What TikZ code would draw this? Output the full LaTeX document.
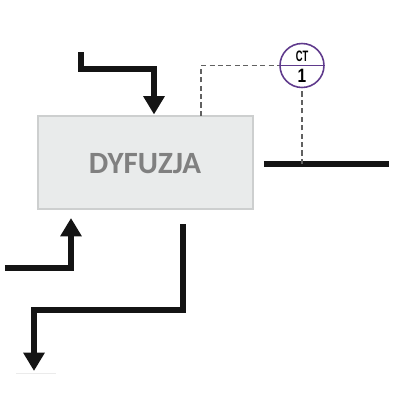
\documentclass[tikz,border=0pt]{standalone}
\usepackage{fontspec}
\setmainfont{Carlito}
\newfontfamily\narrowfont{Liberation Sans}
\usetikzlibrary{arrows.meta}

\definecolor{boxfill}{HTML}{E9EBEB}
\definecolor{boxline}{HTML}{CDCFCF}
\definecolor{sensorviolet}{HTML}{5F3A8C}

\tikzset{
  flowline/.style={line width=2.9pt, black!92, line join=miter},
  flowarrow/.style={flowline, -{Triangle[width=11.6pt,length=10.4pt]}},
  signalline/.style={line width=0.85pt, black!62, dash pattern=on 2.9pt off 1.9pt},
  processbox/.style={draw=boxline, line width=1pt, fill=boxfill, minimum width=4.3cm, minimum height=1.86cm, inner sep=0pt},
  sensorcircle/.style={circle, draw=sensorviolet, line width=0.9pt, minimum size=0.88cm, inner sep=0pt},
}

\begin{document}
\begin{tikzpicture}[x=0.02cm, y=-0.02cm]
\useasboundingbox (0,0) rectangle (400,400);
\node[processbox] (dyfuzja) at (145.5,162.5) {};
\node[text=black!50, font=\bfseries\fontsize{17.6}{20}\selectfont] (dyfuzjatext) at (145,163.5) {DYFUZJA};
\node[sensorcircle] (ct) at (302,65.5) {};
\node[font=\narrowfont\bfseries\fontsize{8.6}{9}\selectfont, xscale=0.62] (cttext) at (302,56.5) {CT};
\node[font=\narrowfont\bfseries\fontsize{11}{12}\selectfont, xscale=0.8] (ctnumber) at (302,76) {1};
\coordinate (feedstart) at (81,52);
\coordinate (feedend) at (154,114.5);
\coordinate (leftstart) at (5,268);
\coordinate (leftend) at (71,218);
\coordinate (outstart) at (183,224);
\coordinate (outend) at (34,371);
\coordinate (steamstart) at (264,164);
\coordinate (steamend) at (389,164);
\coordinate (steamtap) at (302,164);
\coordinate (boxtap) at (201,116);
\draw[flowarrow] (feedstart) |- (154,69) -- (feedend);
\draw[flowarrow] (leftstart) -| (leftend);
\draw[flowarrow] (outstart) |- (34,310) -- (outend);
\draw[flowline] (steamstart) -- (steamend);
\draw[signalline] (steamtap) -- (ct.south);
\draw[signalline] (boxtap) |- (ct.west);
\draw[sensorviolet, line width=0.9pt] (ct.west) -- (ct.east);
\draw[black!8, line width=0.5pt] (16,373) -- (56,373);
\end{tikzpicture}
\end{document}
